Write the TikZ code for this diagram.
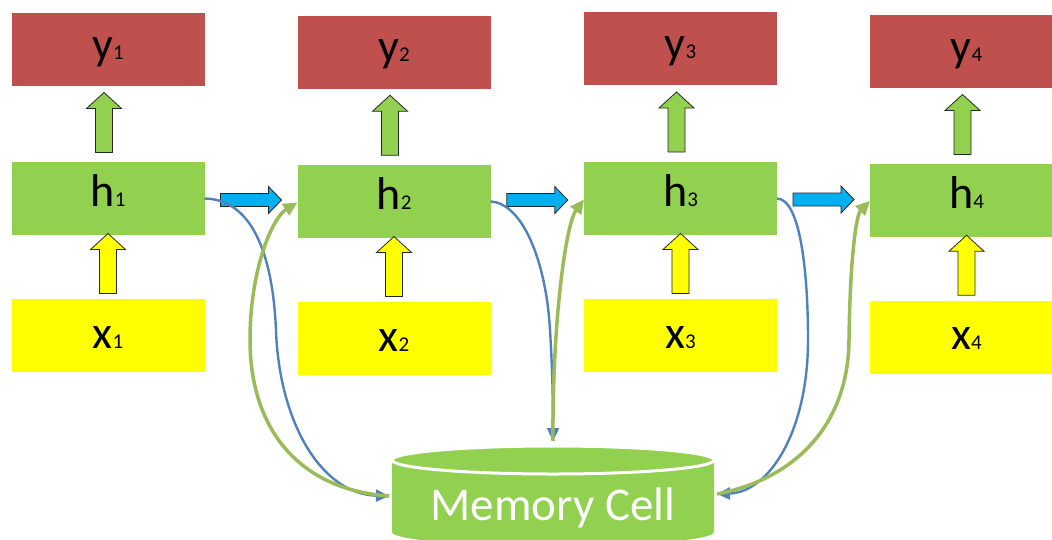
\documentclass[tikz,border=0pt]{standalone}
\usepackage{fontspec}
\setmainfont{Carlito}
\usetikzlibrary{arrows.meta,calc}

\definecolor{cellred}{HTML}{C0504D}
\definecolor{cellgreen}{HTML}{92D050}
\definecolor{cellyellow}{HTML}{FFFF00}
\definecolor{flowblue}{HTML}{00B0F0}
\definecolor{linkblue}{HTML}{4F81BD}
\definecolor{linkgreen}{HTML}{9BBB59}

% letter in large type followed by its index in small type, same baseline
\newcommand\steplabel[2]{{\fontsize{46}{46}\selectfont #1}{\fontsize{21}{21}\selectfont #2}}

\begin{document}
\begin{tikzpicture}[x=1pt,y=-1pt,
  cell/.style={minimum width=193pt, minimum height=73pt, inner sep=0pt,
               outer sep=0pt, text depth=0pt},
  outbox/.style={cell, fill=cellred, text height=19pt},
  hidbox/.style={cell, fill=cellgreen, text height=15pt},
  inbox/.style={cell, fill=cellyellow, text height=25pt},
  blockline/.style={draw=black!85, line width=0.8pt, line join=miter},
  upblock/.pic={\path[pic actions] (-8.5,30) -- (-8.5,-14) -- (-17.5,-14) -- (0,-30)
                  -- (17.5,-14) -- (8.5,-14) -- (8.5,30) -- cycle;},
  rightblock/.pic={\path[pic actions] (-30.5,-6.5) -- (17.5,-6.5) -- (17.5,-13.5) -- (30.5,0)
                  -- (17.5,13.5) -- (17.5,6.5) -- (-30.5,6.5) -- cycle;},
  tolink/.style={draw=linkblue, line width=2.4pt,
                 -{Triangle[length=13pt,width=12pt]}},
  fromlink/.style={draw=linkgreen, line width=3.5pt,
                 -{Triangle[length=14pt,width=13pt]}},
]
\useasboundingbox (0,0) rectangle (1052,539);
\clip (0,0) rectangle (1052,539);

% output, hidden and input cells of the four time steps
\node[outbox] (y1) at (108,49.5)   {\steplabel{y}{1}};
\node[outbox] (y2) at (394,52)     {\steplabel{y}{2}};
\node[outbox] (y3) at (680.5,48.5) {\steplabel{y}{3}};
\node[outbox] (y4) at (966.5,51.5) {\steplabel{y}{4}};

\node[hidbox] (h1) at (108,198.5)   {\steplabel{h}{1}};
\node[hidbox] (h2) at (394,201.5)   {\steplabel{h}{2}};
\node[hidbox] (h3) at (680.5,198.5) {\steplabel{h}{3}};
\node[hidbox] (h4) at (966.5,200.5) {\steplabel{h}{4}};

\node[inbox] (x1) at (108,335.5)   {\steplabel{x}{1}};
\node[inbox] (x2) at (394,338.5)   {\steplabel{x}{2}};
\node[inbox] (x3) at (680.5,335.5) {\steplabel{x}{3}};
\node[inbox] (x4) at (966.5,337)   {\steplabel{x}{4}};

% block arrows between the cells
\foreach \i in {1,2,3,4}{
  \pic[fill=cellgreen, blockline] at ($(h\i.north)!0.5!(y\i.south)+(-4,-1.5)$) {upblock};
  \pic[fill=cellyellow, blockline] at ($(x\i.north)!0.5!(h\i.south)+(0,-3.5)$) {upblock};
}
\foreach \i/\j in {1/2,2/3,3/4}{
  \pic[fill=flowblue, blockline] at ($(h\i.east)!0.5!(h\j.west)$) {rightblock};
}

% memory cell drum
\fill[cellgreen] (392,460) -- (392,532)
  arc[start angle=180, end angle=0, x radius=161, y radius=14] -- (714,460) -- cycle;
\filldraw[fill=cellgreen, draw=white, line width=3pt]
  (553,460) ellipse[x radius=161, y radius=14];
\node[anchor=base, text=white, inner sep=0pt] (mem) at (553,520)
  {\fontsize{47}{47}\selectfont Memory Cell};

\coordinate (memL) at (389,496);
\coordinate (memT) at (553,441);
\coordinate (memR) at (717,494);

% writes into the memory cell
\draw[tolink] (h1.east) .. controls (245,199) and (272,240) .. (276,330)
  .. controls (279,420) and (320,494) .. (memL);
\draw[tolink] (h2.east) .. controls (522,203) and (546,260) .. (550,330)
  .. controls (553,380) and (553,410) .. (memT);
\draw[tolink] (h3.east) .. controls (800,199) and (808,270) .. (808,340)
  .. controls (808,430) and (770,492) .. (memR);

% reads from the memory cell
\draw[fromlink] (memL) .. controls (300,490) and (250,430) .. (250,340)
  .. controls (250,270) and (272,218) .. ($(h2.west)+(0,1)$);
\draw[fromlink] (memT) .. controls (552,330) and (565,225) .. ($(h3.west)+(0,1)$);
\draw[fromlink] (memR) .. controls (790,480) and (848,430) .. (849,340)
  .. controls (850,260) and (856,215) .. ($(h4.west)+(0,0.5)$);
\end{tikzpicture}
\end{document}
